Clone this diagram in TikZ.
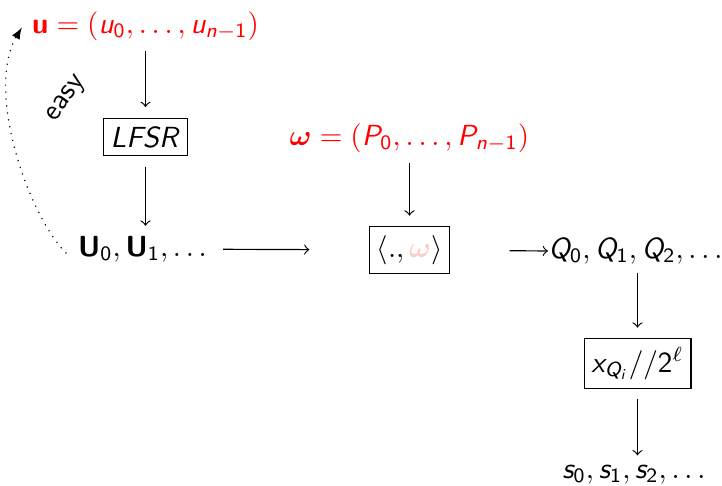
\documentclass[tikz,border=0pt]{standalone}
\usepackage{amsmath,amssymb,bm}
\renewcommand{\familydefault}{\sfdefault}
\DeclareSymbolFont{sfops}{OT1}{cmss}{m}{n}
\DeclareSymbolFont{sfit}{OT1}{cmss}{m}{sl}
\DeclareMathAlphabet{\mathbf}{OT1}{cmss}{bx}{n}
\makeatletter
\def\sfletter#1{\DeclareMathSymbol{#1}{\mathalpha}{sfit}{`#1}}
\@tfor\lt:=abcdefghijklmnopqrstuvwxyzABCDEFGHIJKLMNOPQRSTUVWXYZ\do{\expandafter\sfletter\lt}
\def\sfdigit#1{\DeclareMathSymbol{#1}{\mathalpha}{sfops}{`#1}}
\@tfor\lt:=0123456789\do{\expandafter\sfdigit\lt}
\makeatother
\begin{document}
\begin{tikzpicture}[x=0.3436pt,y=-0.3436pt,font=\sffamily,
  box/.style={draw,thin,inner xsep=2.5pt,inner ysep=3pt,outer sep=3.8pt},
  arr/.style={->,thin}]
\useasboundingbox (0,0) rectangle (722,486);
\node[text=red] (u) at (145.5,26) {$\mathbf{u}=(u_0,\ldots,u_{n-1})$};
\node[box] (lfsr) at (145.5,137) {$LFSR$};
\node (U) at (142.5,249) {$\mathbf{U}_0,\mathbf{U}_1,\ldots$};
\node[text=red] (w) at (409.5,138) {$\bm{\omega}=(P_0,\ldots,P_{n-1})$};
\node[box] (ip) at (409.5,250) {$\langle .,{\color{red!20}\bm{\omega}}\rangle$};
\node[anchor=west,inner sep=0pt] (Q) at (548,251) {$Q_0,Q_1,Q_2,\ldots$};
\node[box] (x) at (637.5,363.5) {$x_{Q_i}//2^\ell$};
\node (s) at (634,475) {$s_0,s_1,s_2,\ldots$};
\node[rotate=55] (easy) at (67,99) {easy};
\draw[arr] (u) -- (lfsr);
\draw[arr] (lfsr.south) -- (lfsr.south |- U.north);
\draw[arr] (w) -- (ip);
\draw[arr,shorten <=2pt,shorten >=16.8pt] (U) -- (ip);
\draw[arr,shorten <=16.8pt] (ip) -- (Q.west);
\draw[arr,shorten <=3pt] (Q.south -| x.north) -- (x.north);
\draw[arr] (x.south) -- (s.north -| x.south);
\draw[dotted,-latex] ([xshift=-0.5pt,yshift=-1.5pt]U.west) .. controls (28,215) and (-15,90) .. ([yshift=-0.5pt]u.west);
\end{tikzpicture}
\end{document}
